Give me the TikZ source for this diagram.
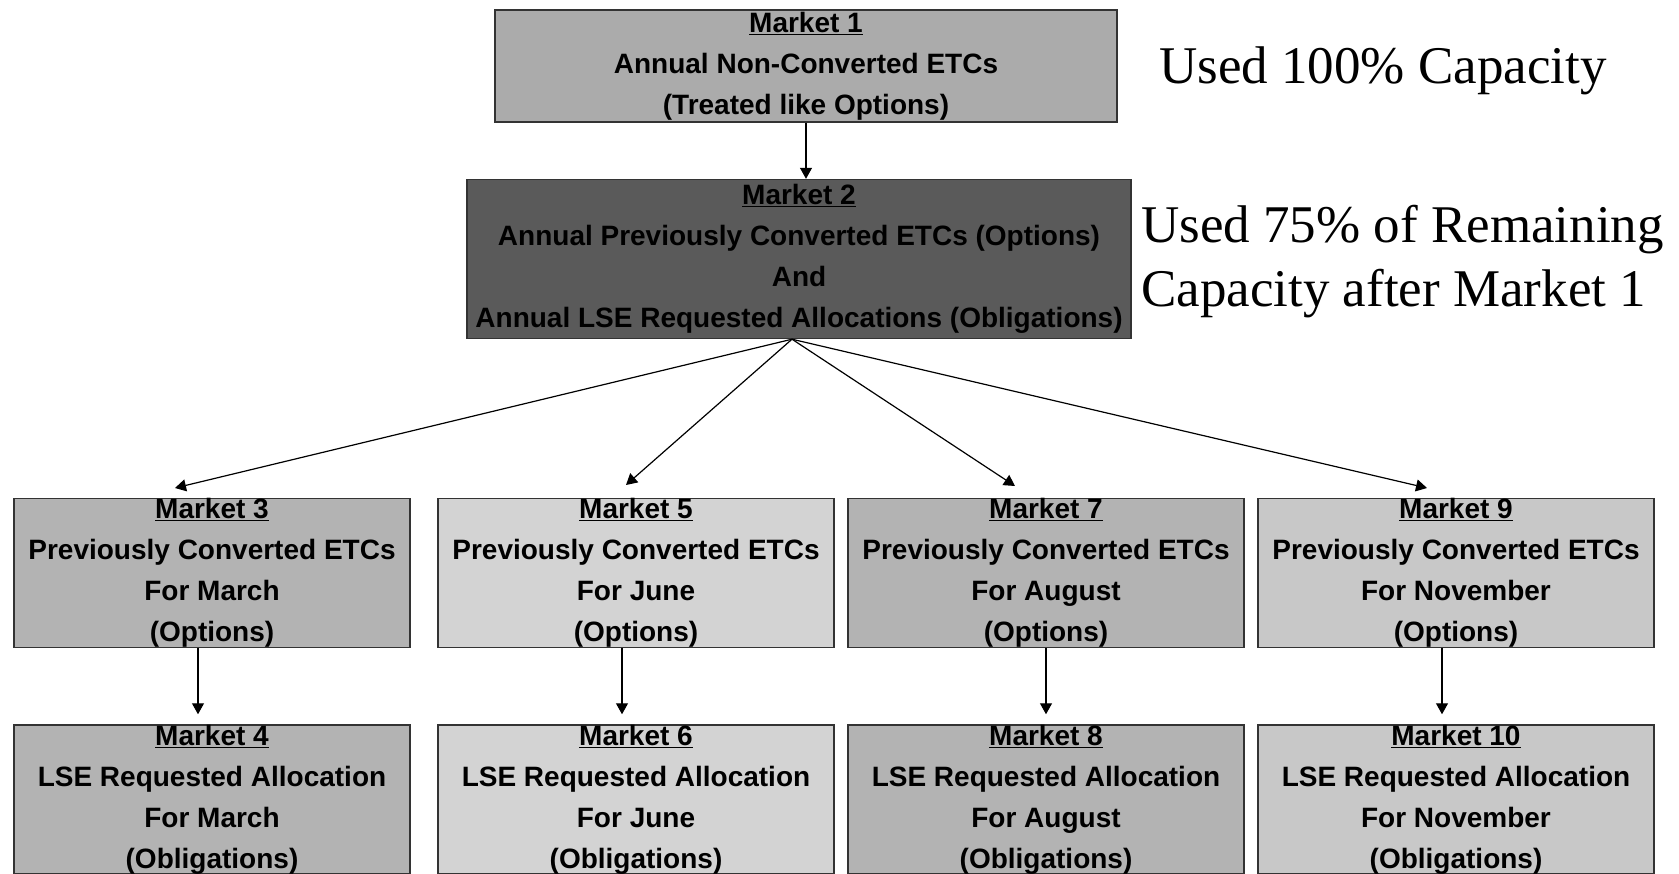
\documentclass[tikz,border=0pt]{standalone}
\usepackage{fontspec}
\setmainfont{Liberation Serif}
\setsansfont{Liberation Sans}
\usetikzlibrary{arrows.meta,positioning}
\definecolor{mktone}{HTML}{ABABAB}
\definecolor{mkttwo}{HTML}{5A5A5A}
\definecolor{mktmid}{HTML}{B3B3B3}
\definecolor{mktpale}{HTML}{D3D3D3}
\definecolor{mktlight}{HTML}{C8C8C8}
\tikzset{
    x=1pt,y=-1pt,
    market/.style ={rectangle, draw=black!80, line width=1.4pt, align=center, inner sep=0pt,
        font=\sffamily\bfseries\fontsize{28}{41}\selectfont},
    month/.style ={market, minimum width=396pt, minimum height=149pt},
    link/.style = {-{Triangle[length=11pt,width=12pt]}, line width=1.2pt},
    note/.style = {anchor=west, align=left, inner sep=0pt, font=\fontsize{53}{64}\selectfont}
}
\begin{document}
\begin{tikzpicture}
    \useasboundingbox (0,0) rectangle (1679,873);

    \node[market, fill=mktone, minimum width=622pt, minimum height=112pt] (m1) at (806,66)
        {\underline{Market 1}\\Annual Non-Converted ETCs\\(Treated like Options)};
    \node[market, fill=mkttwo, minimum width=664pt, minimum height=159pt] (m2) at (799,259)
        {\underline{Market 2}\\Annual Previously Converted ETCs (Options)\\And\\Annual LSE Requested Allocations (Obligations)};

    \node[note] (used1) at (1159,71) {Used 100\% Capacity};
    \node[note] (used2) at (1141,262) {Used 75\% of Remaining\\Capacity after Market 1};

    % options markets
    \node[month, fill=mktmid] (m3) at (212,573)
        {\underline{Market 3}\\Previously Converted ETCs\\For March\\(Options)};
    \node[month, fill=mktpale] (m5) at (636,573)
        {\underline{Market 5}\\Previously Converted ETCs\\For June\\(Options)};
    \node[month, fill=mktmid] (m7) at (1046,573)
        {\underline{Market 7}\\Previously Converted ETCs\\For August\\(Options)};
    \node[month, fill=mktlight] (m9) at (1456,573)
        {\underline{Market 9}\\Previously Converted ETCs\\For November\\(Options)};

    % obligation markets
    \node[month, fill=mktmid] (m4) [below=76pt of m3]
        {\underline{Market 4}\\LSE Requested Allocation\\For March\\(Obligations)};
    \node[month, fill=mktpale] (m6) [below=76pt of m5]
        {\underline{Market 6}\\LSE Requested Allocation\\For June\\(Obligations)};
    \node[month, fill=mktmid] (m8) [below=76pt of m7]
        {\underline{Market 8}\\LSE Requested Allocation\\For August\\(Obligations)};
    \node[month, fill=mktlight] (m10) [below=76pt of m9]
        {\underline{Market 10}\\LSE Requested Allocation\\For November\\(Obligations)};

    \coordinate (t3) at (175,488);
    \coordinate (t5) at (626,485);
    \coordinate (t7) at (1015,486);
    \coordinate (t9) at (1427,488);

    \path (m1.south) edge[link] (m1.south |- m2.north);

    \path ([xshift=-7pt]m2.south) edge[link] (t3);
    \path ([xshift=-7pt]m2.south) edge[link] (t5);
    \path ([xshift=-7pt]m2.south) edge[link] (t7);
    \path ([xshift=-7pt]m2.south) edge[link] (t9);

    \path ([xshift=-14pt]m3.south) edge[link, shorten >=10pt] ([xshift=-14pt]m4.north);
    \path ([xshift=-14pt]m5.south) edge[link, shorten >=10pt] ([xshift=-14pt]m6.north);
    \path (m7.south) edge[link, shorten >=10pt] (m8.north);
    \path ([xshift=-14pt]m9.south) edge[link, shorten >=10pt] ([xshift=-14pt]m10.north);
\end{tikzpicture}
\end{document}
